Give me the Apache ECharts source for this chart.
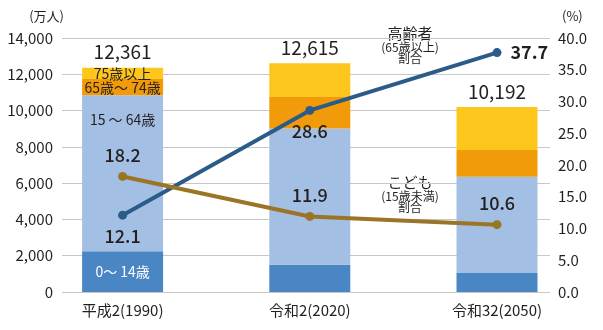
<!DOCTYPE html>
<html><head><meta charset="utf-8">
<script src="https://cdn.jsdelivr.net/npm/echarts@6/dist/echarts.min.js"></script>
<style>html,body{margin:0;padding:0;background:#fff}#c{width:603px;height:330px}</style>
</head><body><div id="c"></div>
<script>
const categories = ['平成2(1990)', '令和2(2020)', '令和32(2050)'];
const age0to14 = [2249, 1503, 1080];
const age15to64 = [8590, 7509, 5270];
const age65to74 = [899, 1742, 1477];
const age75plus = [623, 1861, 2365];
const totals = [12361, 12615, 10192];
const elderlyShare = [12.1, 28.6, 37.7];
const childShare = [18.2, 11.9, 10.6];
const leftTicks = [0, 2000, 4000, 6000, 8000, 10000, 12000, 14000];
const rightTicks = [0, 5, 10, 15, 20, 25, 30, 35, 40];
const segmentNames = ['0～ 14歳', '15 ～ 64歳', '65歳～ 74歳', '75歳以上'];

const FONT = '"Noto Sans CJK JP", "Noto Sans", sans-serif';
const TXT = '#231f20';
const chart = echarts.init(document.getElementById('c'));

function fmtThousands(v){ return String(v).replace(/\B(?=(\d{3})+(?!\d))/g, ','); }

const barCommon = { type: 'bar', stack: 'pop', xAxisIndex: 1, yAxisIndex: 2, barWidth: 81 };
function segLabel(idx, color, position, distance){
  return { show: true, position: position, distance: distance || 0, color: color, fontSize: 14, fontFamily: FONT,
    formatter: p => p.dataIndex === 0 ? segmentNames[idx] : '' };
}

chart.setOption({
  animation: false,
  grid: [
    { left: 62, right: 53, top: 38, bottom: 38 },
    { left: 29, right: 12.4, top: 38, bottom: 38 }
  ],
  xAxis: [
    { type: 'value', gridIndex: 0, show: false, min: 0, max: 1 },
    { type: 'category', gridIndex: 1, data: categories,
      axisLine: { show: false }, axisTick: { show: false },
      axisLabel: { color: TXT, fontSize: 15, fontFamily: FONT, margin: 11 } }
  ],
  yAxis: [
    { type: 'value', gridIndex: 0, min: leftTicks[0], max: leftTicks[leftTicks.length-1], interval: 2000,
      name: '(万人)', nameLocation: 'end', nameGap: 15,
      nameTextStyle: { color: TXT, fontSize: 13, fontFamily: FONT, align: 'right', padding: [0, -2, 0, 0] },
      axisLine: { show: false }, axisTick: { show: false },
      axisLabel: { color: TXT, fontSize: 15, fontFamily: FONT, margin: 9, formatter: v => fmtThousands(v) },
      splitLine: { lineStyle: { color: '#c8c8c8', width: 1 } } },
    { type: 'value', gridIndex: 0, position: 'right', min: rightTicks[0], max: rightTicks[rightTicks.length-1], interval: 5,
      name: '(%)', nameLocation: 'end', nameGap: 15,
      nameTextStyle: { color: TXT, fontSize: 13, fontFamily: FONT, align: 'left', padding: [0, 0, 0, 12] },
      axisLine: { show: false }, axisTick: { show: false },
      axisLabel: { color: TXT, fontSize: 15, fontFamily: FONT, margin: 8, formatter: v => v.toFixed(1) },
      splitLine: { show: false } },
    { type: 'value', gridIndex: 1, min: 0, max: 14000, show: false },
    { type: 'value', gridIndex: 1, min: 0, max: 40, show: false }
  ],
  series: [
    Object.assign({}, barCommon, { name: segmentNames[0], data: age0to14, itemStyle: { color: '#4b86c4' },
      label: segLabel(0, '#ffffff', 'inside') }),
    Object.assign({}, barCommon, { name: segmentNames[1], data: age15to64, itemStyle: { color: '#a3bfe3' },
      label: segLabel(1, TXT, 'insideTop', 17) }),
    Object.assign({}, barCommon, { name: segmentNames[2], data: age65to74, itemStyle: { color: '#f29b0a' },
      label: segLabel(2, TXT, 'inside') }),
    Object.assign({}, barCommon, { name: segmentNames[3], data: age75plus, itemStyle: { color: '#fdc61c' },
      label: segLabel(3, TXT, 'inside') }),
    Object.assign({}, barCommon, { name: 'total', data: totals.map(() => 0), itemStyle: { color: 'transparent' },
      label: { show: true, position: 'top', distance: 6, color: TXT, fontSize: 19, fontFamily: FONT,
        formatter: p => fmtThousands(totals[p.dataIndex]) } }),
    { type: 'line', name: '高齢者割合', xAxisIndex: 1, yAxisIndex: 3,
      symbol: 'circle', symbolSize: 9, lineStyle: { color: '#2b5b88', width: 4 }, itemStyle: { color: '#2b5b88' },
      label: { show: true, color: TXT, fontSize: 18, fontFamily: FONT, fontWeight: 500 },
      data: elderlyShare.map((v, i) => ({ value: v, label: i === 2
        ? { position: 'right', distance: 9, fontWeight: 'bold' }
        : { position: 'bottom', distance: 7 } })) },
    { type: 'line', name: 'こども割合', xAxisIndex: 1, yAxisIndex: 3,
      symbol: 'circle', symbolSize: 9, lineStyle: { color: '#9a7526', width: 4 }, itemStyle: { color: '#9a7526' },
      label: { show: true, position: 'top', distance: 8, color: TXT, fontSize: 18, fontFamily: FONT, fontWeight: 500 },
      data: childShare.map(v => ({ value: v })) }
  ],
  graphic: [
    { type: 'group', left: 380, top: 23, children: [
      { type: 'rect', shape: { x: 0, y: 0, width: 62, height: 42 }, style: { fill: '#fff' } },
      { type: 'text', x: 30, y: 10, style: { text: '高齢者', fill: TXT, font: '15px ' + FONT, textAlign: 'center', textVerticalAlign: 'middle' } },
      { type: 'text', x: 30, y: 24, style: { text: '(65歳以上)', fill: TXT, font: '12px ' + FONT, textAlign: 'center', textVerticalAlign: 'middle' } },
      { type: 'text', x: 30, y: 35, style: { text: '割合', fill: TXT, font: '12px ' + FONT, textAlign: 'center', textVerticalAlign: 'middle' } }
    ]},
    { type: 'group', left: 380, top: 172, children: [
      { type: 'rect', shape: { x: 0, y: 0, width: 62, height: 42 }, style: { fill: '#fff' } },
      { type: 'text', x: 30, y: 10, style: { text: 'こども', fill: TXT, font: '15px ' + FONT, textAlign: 'center', textVerticalAlign: 'middle' } },
      { type: 'text', x: 30, y: 24, style: { text: '(15歳未満)', fill: TXT, font: '12px ' + FONT, textAlign: 'center', textVerticalAlign: 'middle' } },
      { type: 'text', x: 30, y: 35, style: { text: '割合', fill: TXT, font: '12px ' + FONT, textAlign: 'center', textVerticalAlign: 'middle' } }
    ]}
  ]
});
</script></body></html>
